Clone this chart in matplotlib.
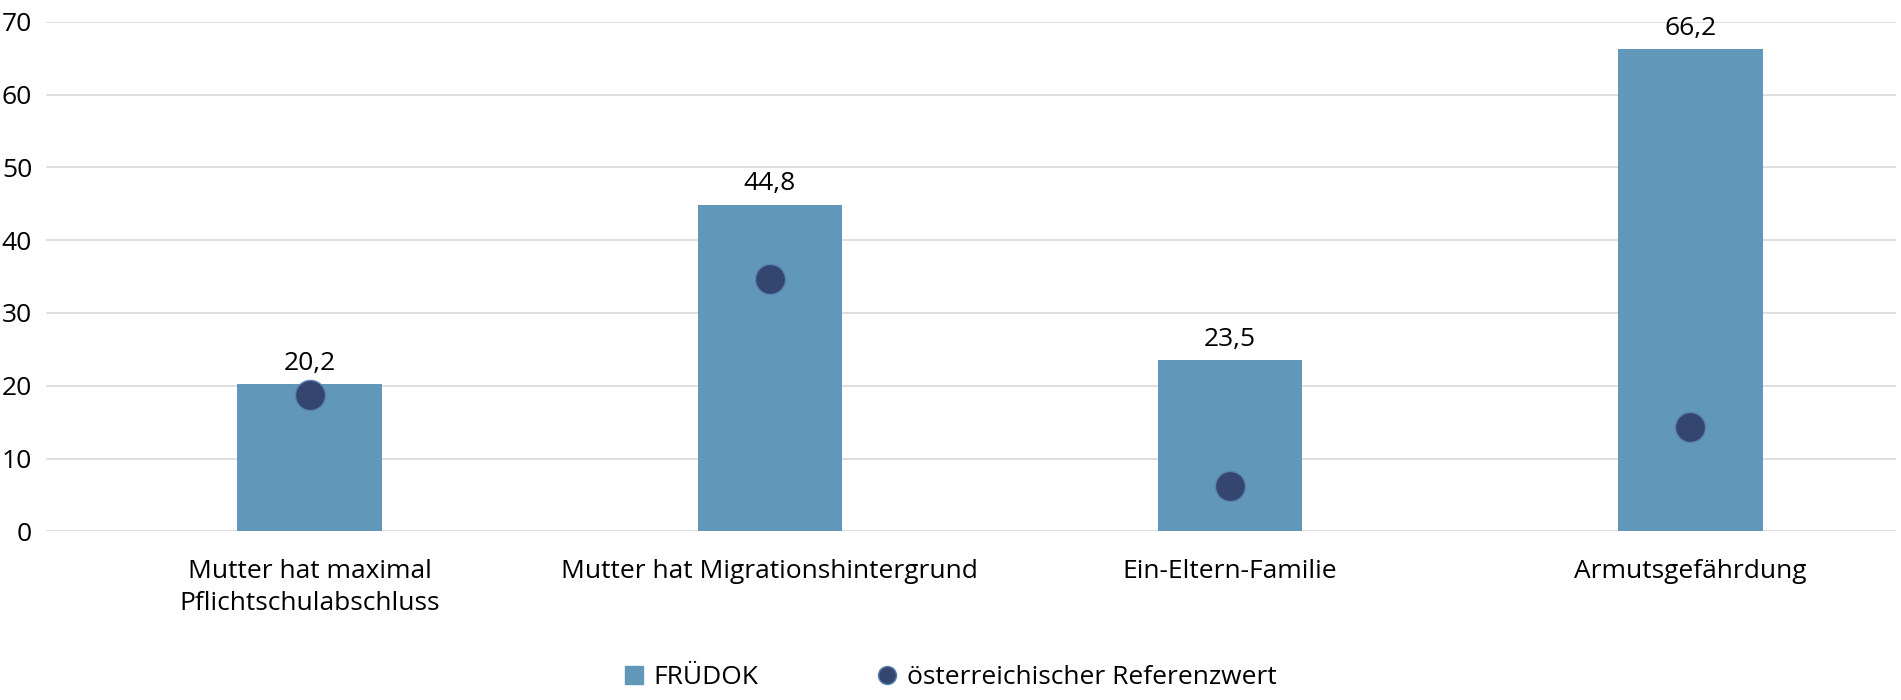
import numpy as np
import matplotlib.pyplot as plt
from matplotlib.lines import Line2D
from matplotlib.patches import Patch

categories = ["Mutter hat maximal\nPflichtschulabschluss", "Mutter hat Migrationshintergrund",
              "Ein-Eltern-Familie", "Armutsgefährdung"]
fruedok = [20.2, 44.8, 23.5, 66.2]
referenz = [18.7, 34.7, 6.3, 14.3]
yticks = [0, 10, 20, 30, 40, 50, 60, 70]

bar_color = '#6198ba'
dot_color = '#34466f'
plt.rcParams['font.family'] = ['Open Sans', 'DejaVu Sans']

fig = plt.figure(figsize=(19.01, 7), dpi=100)
ax = fig.add_axes([0.0242, 0.2409, 0.9732, 0.728])
x = np.arange(len(categories))

ax.bar(x, fruedok, width=0.314, color=bar_color, zorder=2)
ax.scatter(x, referenz, s=470, color=dot_color, edgecolor='#5a82b0', linewidth=1.0, zorder=3)
for xi, v in zip(x, fruedok):
    ax.text(xi, v + 1.2, f"{v:.1f}".replace('.', ','), ha='center', va='bottom', fontsize=19)

ax.set_ylim(0, 70)
ax.set_xlim(-0.573, 3.447)
ax.set_yticks(yticks)
ax.set_yticklabels([str(t) for t in yticks], fontsize=19)
ax.set_xticks(x)
ax.set_xticklabels(categories, fontsize=19, linespacing=1.35)
ax.tick_params(axis='both', length=0)
ax.tick_params(axis='y', pad=10)
ax.tick_params(axis='x', pad=20)
ax.grid(axis='y', color='#d9d9d9', linewidth=1.2, zorder=0)
for s in ax.spines.values():
    s.set_visible(False)

handles = [Patch(color=bar_color, label='FRÜDOK'),
           Line2D([], [], marker='o', linestyle='', markersize=13, markerfacecolor=dot_color,
                  markeredgecolor='#5a82b0', label='österreichischer Referenzwert')]
fig.legend(handles=handles, loc='lower center', bbox_to_anchor=(0.5, -0.02), ncol=2, frameon=False,
           fontsize=19, handlelength=0.7, handletextpad=0.4, columnspacing=4.5)

fig.savefig('out.png', dpi=100)
